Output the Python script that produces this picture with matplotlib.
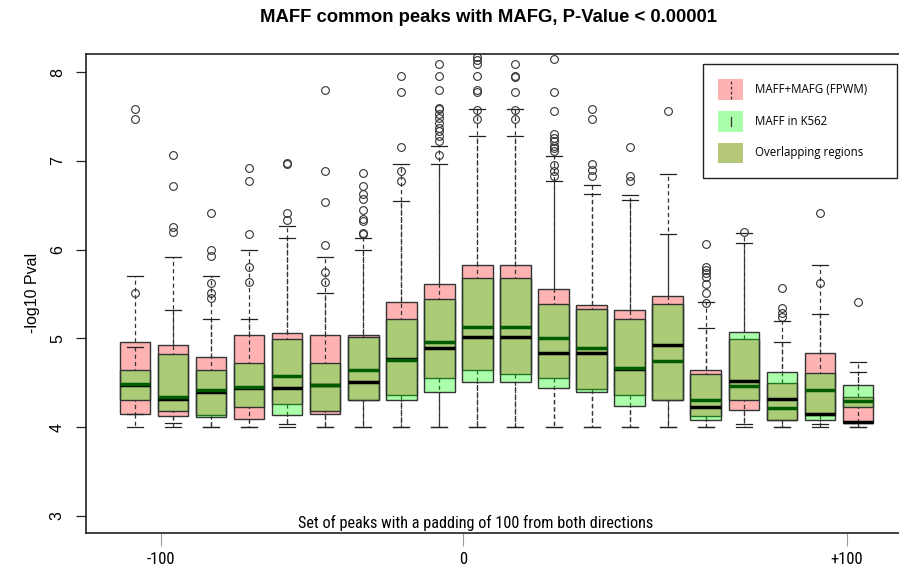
import matplotlib
matplotlib.use('Agg')
import matplotlib.pyplot as plt
from matplotlib.patches import Rectangle, Patch
from matplotlib.lines import Line2D
from matplotlib.legend_handler import HandlerBase
from matplotlib import font_manager

plt.rcParams['lines.scale_dashes'] = False

# ---------------- data ----------------
positions = list(range(1, 21))

# MAFF+MAFG (FPWM)
pink_whislo = [4.00, 4.00, 4.00, 4.00, 4.03, 4.00, 4.00, 4.00, 4.00, 4.00,
               4.00, 4.00, 4.00, 4.00, 4.00, 4.00, 4.03, 4.00, 4.00, 4.00]
pink_q1     = [4.15, 4.12, 4.135, 4.09, 4.26, 4.15, 4.30, 4.36, 4.55, 4.64,
               4.60, 4.55, 4.43, 4.36, 4.30, 4.12, 4.19, 4.08, 4.135, 4.05]
pink_med    = [4.47, 4.32, 4.40, 4.44, 4.44, 4.47, 4.51, 4.77, 4.89, 5.02,
               5.02, 4.83, 4.83, 4.65, 4.92, 4.23, 4.52, 4.32, 4.15, 4.06]
pink_q3     = [4.96, 4.92, 4.79, 5.04, 5.06, 5.04, 5.04, 5.41, 5.61, 5.83,
               5.83, 5.55, 5.37, 5.32, 5.48, 4.64, 4.99, 4.50, 4.83, 4.34]
pink_whishi = [5.70, 5.92, 5.70, 6.00, 6.26, 5.92, 6.13, 6.96, 7.17, 7.58,
               7.58, 7.05, 6.73, 6.61, 6.85, 5.41, 6.07, 4.96, 5.83, 4.73]
pink_out = [
    [7.47, 7.58],
    [6.20, 6.25, 6.72, 7.06],
    [5.93, 6.00, 6.41],
    [6.18, 6.77, 6.92],
    [6.33, 6.41, 6.96, 6.97],
    [6.05, 6.54, 6.88, 7.80],
    [6.18, 6.19, 6.32, 6.34, 6.45, 6.57, 6.62, 6.72, 6.86],
    [7.16, 7.77, 7.96],
    [7.22, 7.28, 7.33, 7.37, 7.43, 7.48, 7.53, 7.58, 7.60, 7.80, 7.96, 8.09],
    [7.78, 7.80, 7.96, 8.09, 8.13, 8.17],
    [7.77, 7.94, 7.96, 8.09],
    [7.11, 7.14, 7.17, 7.22, 7.26, 7.30, 7.56, 7.77, 8.15],
    [6.83, 6.90, 6.96, 7.47, 7.58],
    [6.77, 6.83, 7.16],
    [7.56],
    [5.51, 5.61, 5.69, 5.73, 5.77, 5.80, 6.06],
    [],
    [5.24, 5.29, 5.34, 5.57],
    [6.41],
    [5.41],
]

# MAFF in K562
green_whislo = [4.15, 4.05, 4.00, 4.00, 4.00, 4.00, 4.00, 4.00, 4.00, 4.00,
                4.00, 4.00, 4.00, 4.00, 4.00, 4.00, 4.00, 4.00, 4.03, 4.00]
green_q1     = [4.30, 4.18, 4.11, 4.23, 4.14, 4.18, 4.30, 4.30, 4.39, 4.51,
                4.51, 4.44, 4.39, 4.24, 4.30, 4.08, 4.31, 4.08, 4.08, 4.23]
green_med    = [4.48, 4.34, 4.42, 4.45, 4.57, 4.47, 4.64, 4.76, 4.96, 5.13,
                5.13, 5.00, 4.89, 4.67, 4.74, 4.30, 4.46, 4.22, 4.42, 4.29]
green_q3     = [4.64, 4.82, 4.64, 4.72, 4.99, 4.72, 5.02, 5.22, 5.44, 5.68,
                5.68, 5.39, 5.33, 5.22, 5.39, 4.60, 5.07, 4.62, 4.61, 4.47]
green_whishi = [4.90, 5.32, 5.22, 5.22, 6.13, 5.51, 6.00, 6.55, 6.96, 7.28,
                7.28, 6.77, 6.63, 6.56, 6.18, 5.12, 6.19, 5.19, 5.27, 4.62]
green_out = [
    [5.51], [], [5.45, 5.51, 5.62], [5.63, 5.80], [], [5.63, 5.75], [],
    [6.77, 6.88], [7.06], [7.47, 7.57], [7.47, 7.57], [6.83, 6.88, 6.95],
    [], [], [], [5.40], [6.20], [], [5.62], [],
]

xtick_pos = [1.683, 9.62, 19.71]
xtick_labels = ['-100', '0', '+100']
ytick_vals = [3, 4, 5, 6, 7, 8]

title = 'MAFF common peaks with MAFG, P-Value < 0.00001'
ylabel = '-log10 Pval'
note = 'Set of peaks with a padding of 100 from both directions'
legend_labels = ['MAFF+MAFG (FPWM)', 'MAFF in K562', 'Overlapping regions']

# ---------------- styles ----------------
PINK = (1.0, 0.0, 0.0, 0.30)
GREEN = (0.0, 1.0, 0.0, 0.33)
OLIVE = (0.71, 0.78, 0.47)
EDGE = '#333333'
SANS = ['Liberation Sans', 'DejaVu Sans']

# look for a narrow/condensed face if one is installed
_names = {f.name for f in font_manager.fontManager.ttflist}
NARROW = None
for cand in ['Liberation Sans Narrow', 'DejaVu Sans Condensed', 'Roboto Condensed',
             'Open Sans Condensed', 'Noto Sans Condensed']:
    if cand in _names:
        NARROW = cand
        break
if NARROW is None:
    narrow_prop = dict(family=['Roboto', 'DejaVu Sans'])
    note_size, tick_size = 9.6, 10.5
else:
    narrow_prop = dict(family=[NARROW, 'DejaVu Sans'])
    note_size, tick_size = 11.7, 12


def make_stats(wl, q1, md, q3, wh, out):
    return [dict(whislo=a, q1=b, med=c, q3=d, whishi=e, fliers=f)
            for a, b, c, d, e, f in zip(wl, q1, md, q3, wh, out)]


pink_stats = make_stats(pink_whislo, pink_q1, pink_med, pink_q3, pink_whishi, pink_out)
green_stats = make_stats(green_whislo, green_q1, green_med, green_q3, green_whishi, green_out)

fig = plt.figure(figsize=(8.99, 5.69), dpi=100)
ax = fig.add_axes([86 / 899, 36 / 569, 813 / 899, 479 / 569])


def draw(stats, face, medcol, dash):
    ax.bxp(stats, positions=positions, widths=0.8, patch_artist=True,
           showfliers=True, manage_ticks=False, capwidths=0.42,
           boxprops=dict(facecolor=face, edgecolor=EDGE, linewidth=1.0),
           medianprops=dict(color=medcol, linewidth=2.5, zorder=4,
                            solid_capstyle='butt'),
           whiskerprops=dict(color=EDGE, linewidth=0.9, linestyle=dash),
           capprops=dict(color='#222222', linewidth=0.9),
           flierprops=dict(marker='o', markerfacecolor='none',
                           markeredgecolor='#333333', markersize=5.6,
                           markeredgewidth=0.8, linestyle='none'))


draw(pink_stats, PINK, 'black', (0, (3.0, 2.2)))
draw(green_stats, GREEN, '#005a00', (2.0, (3.0, 2.2)))

ax.set_xlim(-0.288, 21.08)
ax.set_ylim(2.806, 8.203)

for s in ['left', 'top', 'bottom']:
    ax.spines[s].set_color('#222222')
    ax.spines[s].set_linewidth(1.2)
ax.spines['right'].set_visible(False)

ax.set_yticks(ytick_vals)
ax.set_yticklabels([str(v) for v in ytick_vals], fontsize=11.5, family=SANS)
for lab in ax.get_yticklabels():
    lab.set_rotation(90)
    lab.set_va('center')
ax.tick_params(axis='y', length=7.2, width=0.9, color='#222222', pad=8)

ax.set_xticks(xtick_pos)
ax.set_xticklabels(xtick_labels, fontsize=tick_size, **narrow_prop)
ax.tick_params(axis='x', length=9, width=0.8, color='#999999', pad=5)

ax.text((476 - 86) / 813, 10 / 479, note, transform=ax.transAxes,
        ha='center', va='center', fontsize=note_size, **narrow_prop)

fig.text(489 / 899, 1 - 18 / 569, title, ha='center', va='center',
         fontsize=13.3, fontweight='bold', family=SANS)
fig.text(32 / 899, 1 - 293 / 569, ylabel, ha='center', va='center',
         rotation=90, fontsize=11.5, family=SANS)


# ---------------- legend ----------------
class SwatchHandler(HandlerBase):
    def __init__(self, face, dash=None, seg=(0.0, 1.0)):
        super().__init__()
        self.face = face
        self.dash = dash
        self.seg = seg

    def create_artists(self, legend, orig_handle, xdescent, ydescent,
                       width, height, fontsize, trans):
        x0, y0 = -xdescent, -ydescent
        arts = [Rectangle((x0, y0), width, height, facecolor=self.face,
                          edgecolor='none', transform=trans)]
        if self.dash is not None:
            cx = x0 + width / 2
            arts.append(Line2D([cx, cx],
                               [y0 + height * self.seg[0], y0 + height * self.seg[1]],
                               color='#333333', linewidth=0.9,
                               linestyle=self.dash, transform=trans))
        return arts


h1, h2, h3 = Patch(), Patch(), Patch()
hmap = {h1: SwatchHandler(PINK, (0, (2.0, 1.6)), (0.05, 0.95)),
        h2: SwatchHandler(GREEN, '-', (0.25, 0.7)),
        h3: SwatchHandler(OLIVE)}
leg = ax.legend([h1, h2, h3], legend_labels, handler_map=hmap,
                loc='upper left', mode='expand',
                bbox_to_anchor=((703 - 86) / 813, (533 - 182) / 479,
                                194 / 813, 118 / 479),
                borderaxespad=0, fancybox=False, framealpha=1,
                edgecolor='#222222', borderpad=1.3,
                handlelength=2.2, handleheight=2.4, labelspacing=0.95,
                handletextpad=1.0,
                prop=dict(family=['Open Sans', 'DejaVu Sans'], size=8.3))
leg.get_frame().set_linewidth(1.0)

fig.savefig('out.png', dpi=100)
